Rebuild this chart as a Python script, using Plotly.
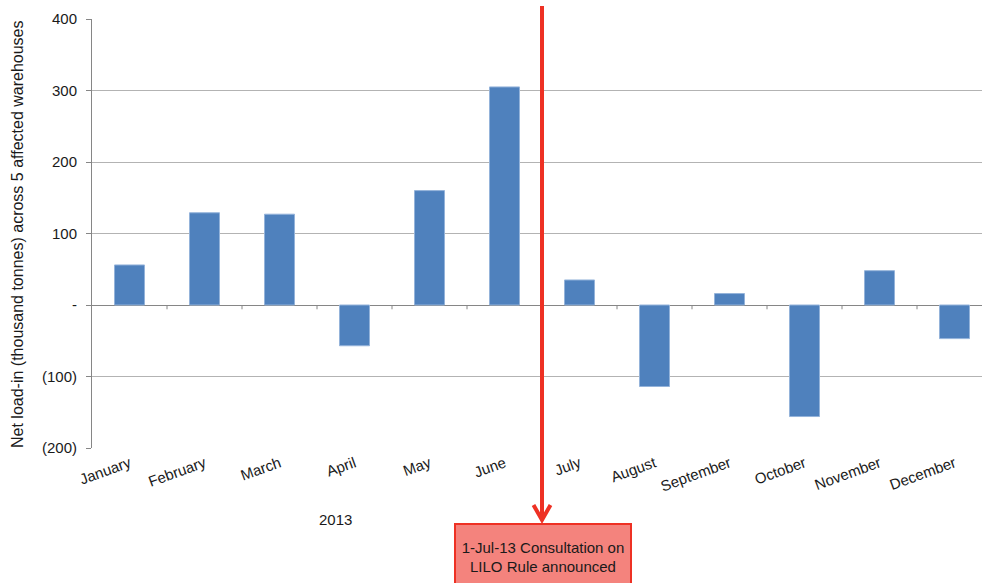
import plotly.graph_objects as go

months = ["January", "February", "March", "April", "May", "June",
          "July", "August", "September", "October", "November", "December"]
net_load_in = [56, 129, 127, -57, 160, 305, 35, -114, 16, -156, 48, -47]
ytick_vals = [400, 300, 200, 100, 0, -100, -200]
ytick_text = ["400", "300", "200", "100", "-", "(100)", "(200)"]
year_label = "2013"
event_label = "1-Jul-13 Consultation on<br>LILO Rule announced"
event_pos = 5.5  # boundary between June and July

FONT = "Liberation Sans, Arial, sans-serif"
RED = "#EE3124"
W, H = 982, 583
L, T, B = 92, 19, 135
PW = W - L
PH = H - T - B


def py(pix):
    """pixel row -> paper y"""
    return (T + PH - pix) / PH


x_idx = list(range(len(months)))

fig = go.Figure()
fig.add_trace(go.Bar(
    x=x_idx, y=net_load_in, width=0.4,
    marker=dict(color="#4F81BD", line=dict(color="#94B3DA", width=1)),
    showlegend=False, hoverinfo="y",
))

# small tick marks on the zero line at category boundaries
for i in range(len(months) - 1):
    fig.add_shape(type="line", xref="x", yref="y",
                  x0=i + 0.5, x1=i + 0.5, y0=0, y1=-6,
                  line=dict(color="#868686", width=1), layer="above")

# red arrow: vertical line + open chevron head
fig.add_shape(type="line", xref="x", yref="paper",
              x0=event_pos, x1=event_pos, y0=py(6), y1=py(520),
              line=dict(color=RED, width=4), layer="above")
fig.add_shape(type="path", xref="x", yref="paper",
              xsizemode="pixel", xanchor=event_pos,
              path=f"M -8.5 {py(505)} L 0 {py(520)} L 8.5 {py(505)}",
              line=dict(color=RED, width=4), layer="above")
# event box
fig.add_annotation(x=event_pos, y=py(523), xref="x", yref="paper",
                   xanchor="center", yanchor="top", xshift=1,
                   text=event_label, showarrow=False,
                   font=dict(family=FONT, size=15, color="#1a1a1a"),
                   bgcolor="#F4837D", bordercolor=RED, borderwidth=2,
                   borderpad=1, width=172, height=62, align="center")
# year label
fig.add_annotation(x=(335 - L) / PW, y=py(519), xref="paper", yref="paper",
                   xanchor="center", yanchor="middle", text=year_label,
                   showarrow=False, font=dict(family=FONT, size=15, color="#1a1a1a"))
# y-axis title
fig.add_annotation(x=(17 - L) / PW, y=py(234), xref="paper", yref="paper",
                   xanchor="center", yanchor="middle", textangle=-90,
                   text="Net load-in (thousand tonnes) across 5 affected warehouses",
                   showarrow=False, font=dict(family=FONT, size=16, color="#1a1a1a"))

fig.update_layout(
    width=W, height=H,
    margin=dict(l=L, r=0, t=T, b=B),
    plot_bgcolor="white", paper_bgcolor="white",
    font=dict(family=FONT, size=15, color="#1a1a1a"),
    bargap=0.6,
)
fig.update_xaxes(
    range=[-0.5, -0.5 + PW / 75.0],
    tickvals=x_idx, ticktext=months, tickangle=-20,
    showgrid=False, zeroline=False, showline=False, ticks="",
    ticklabelstandoff=3,
    tickfont=dict(family=FONT, size=15, color="#1a1a1a"),
)
fig.update_yaxes(
    range=[-200, 400],
    tickvals=ytick_vals, ticktext=ytick_text,
    showgrid=True, gridcolor="#B3B3B3", gridwidth=1,
    zeroline=True, zerolinecolor="#868686", zerolinewidth=1,
    showline=True, linecolor="#868686", linewidth=1,
    ticks="outside", ticklen=5, tickcolor="#868686",
    ticklabelstandoff=6,
    tickfont=dict(family=FONT, size=15, color="#1a1a1a"),
)

fig.write_html("out.html")
